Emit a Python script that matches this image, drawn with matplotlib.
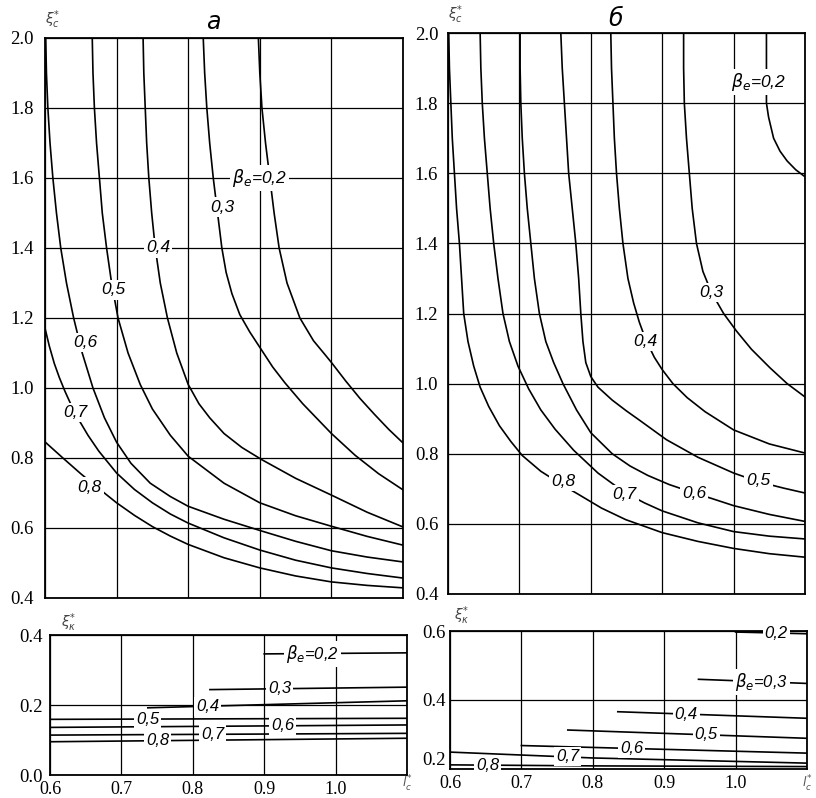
import numpy as np
import matplotlib.pyplot as plt

# ---------------- panel "а", upper part: xi_c* vs l_c* for several beta_e
a02_x = [0.898, 0.900, 0.903, 0.908, 0.914, 0.920, 0.927, 0.938, 0.956, 0.975, 0.99, 1.0, 1.02, 1.04, 1.06, 1.08, 1.1]
a02_y = [2.0, 1.9, 1.8, 1.7, 1.6, 1.5, 1.4, 1.3, 1.2, 1.135, 1.098, 1.073, 1.02, 0.97, 0.925, 0.882, 0.843]
a03_x = [0.821, 0.823, 0.826, 0.830, 0.835, 0.841, 0.847, 0.853, 0.861, 0.872, 0.886, 0.902,
         0.918, 0.935, 0.96, 1.0, 1.033, 1.066, 1.1]
a03_y = [2.0, 1.9, 1.8, 1.7, 1.6, 1.5, 1.4, 1.33, 1.27, 1.21, 1.16, 1.11,
         1.06, 1.015, 0.955, 0.87, 0.808, 0.755, 0.709]
a04_x = [0.737, 0.738, 0.740, 0.742, 0.745, 0.749, 0.754, 0.761, 0.771, 0.784, 0.80, 0.815,
         0.83, 0.85, 0.875, 0.903, 0.95, 1.0, 1.05, 1.1]
a04_y = [2.0, 1.9, 1.8, 1.7, 1.6, 1.5, 1.4, 1.3, 1.2, 1.1, 1.01, 0.955,
         0.915, 0.87, 0.83, 0.795, 0.742, 0.694, 0.645, 0.603]
a05_x = [0.666, 0.667, 0.669, 0.672, 0.676, 0.680, 0.686, 0.693, 0.702, 0.716, 0.733, 0.75,
         0.775, 0.8, 0.85, 0.9, 0.95, 1.0, 1.05, 1.1]
a05_y = [2.0, 1.9, 1.8, 1.7, 1.6, 1.5, 1.4, 1.3, 1.2, 1.1, 1.01, 0.94,
         0.865, 0.805, 0.728, 0.672, 0.635, 0.605, 0.576, 0.551]
a06_x = [0.601, 0.602, 0.604, 0.607, 0.611, 0.616, 0.622, 0.63, 0.64, 0.652, 0.667, 0.683,
         0.7, 0.72, 0.747, 0.775, 0.8, 0.85, 0.9, 0.95, 1.0, 1.05, 1.1]
a06_y = [2.0, 1.9, 1.8, 1.7, 1.6, 1.5, 1.4, 1.3, 1.2, 1.1, 1.0, 0.915,
         0.845, 0.785, 0.728, 0.69, 0.662, 0.625, 0.593, 0.562, 0.535, 0.517, 0.503]
a07_x = [0.6, 0.606, 0.613, 0.62, 0.628, 0.638, 0.649, 0.66, 0.675, 0.7, 0.725, 0.75,
         0.775, 0.8, 0.85, 0.9, 0.95, 1.0, 1.05, 1.1]
a07_y = [1.171, 1.12, 1.07, 1.03, 0.99, 0.945, 0.903, 0.865, 0.82, 0.757, 0.71, 0.672,
         0.64, 0.614, 0.572, 0.537, 0.508, 0.486, 0.47, 0.457]
a08_x = [0.6, 0.625, 0.65, 0.675, 0.7, 0.725, 0.75, 0.775, 0.8, 0.85, 0.9, 0.95, 1.0, 1.05, 1.1]
a08_y = [0.846, 0.80, 0.755, 0.713, 0.672, 0.636, 0.604, 0.577, 0.553, 0.515, 0.486, 0.463,
         0.446, 0.436, 0.429]

a_lab = [r'$\beta_e$=0,2', '0,3', '0,4', '0,5', '0,6', '0,7', '0,8']
a_lab_x = [0.9, 0.847, 0.758, 0.695, 0.656, 0.642, 0.662]
a_lab_y = [1.6, 1.517, 1.40, 1.28, 1.131, 0.931, 0.717]

# ---------------- panel "б", upper part
b02_x = [1.046, 1.046, 1.049, 1.056, 1.065, 1.075, 1.087, 1.1]
b02_y = [2.0, 1.8, 1.76, 1.70, 1.663, 1.635, 1.61, 1.59]
b03_x = [0.930, 0.930, 0.931, 0.934, 0.938, 0.942, 0.948, 0.957, 0.969, 0.986, 1.004, 1.025,
         1.051, 1.075, 1.1]
b03_y = [2.0, 1.9, 1.8, 1.7, 1.6, 1.5, 1.4, 1.32, 1.26, 1.2, 1.15, 1.098,
         1.045, 1.0, 0.962]
b04_x = [0.828, 0.829, 0.831, 0.833, 0.836, 0.840, 0.845, 0.852, 0.86, 0.868, 0.877, 0.889,
         0.9, 0.915, 0.935, 0.96, 1.0, 1.05, 1.1]
b04_y = [2.0, 1.9, 1.8, 1.7, 1.6, 1.5, 1.4, 1.3, 1.23, 1.175, 1.125, 1.075,
         1.04, 1.0, 0.96, 0.92, 0.868, 0.828, 0.802]
b05_x = [0.758, 0.760, 0.763, 0.766, 0.769, 0.774, 0.779, 0.783, 0.786, 0.789, 0.793, 0.80,
         0.81, 0.83, 0.85, 0.868, 0.906, 0.95, 1.0, 1.035, 1.07, 1.1]
b05_y = [2.0, 1.9, 1.8, 1.7, 1.6, 1.5, 1.4, 1.3, 1.2, 1.12, 1.06, 1.02,
         0.99, 0.953, 0.922, 0.896, 0.84, 0.79, 0.745, 0.72, 0.702, 0.688]
b06_x = [0.701, 0.701, 0.702, 0.704, 0.707, 0.711, 0.716, 0.721, 0.728, 0.737, 0.748, 0.761,
         0.78, 0.8, 0.83, 0.855, 0.88, 0.91, 0.945, 0.97, 1.0, 1.05, 1.1]
b06_y = [2.0, 1.9, 1.8, 1.7, 1.6, 1.5, 1.4, 1.3, 1.2, 1.12, 1.06, 1.0,
         0.925, 0.86, 0.80, 0.765, 0.738, 0.712, 0.688, 0.672, 0.652, 0.627, 0.607]
b07_x = [0.645, 0.646, 0.648, 0.651, 0.655, 0.659, 0.664, 0.670, 0.677, 0.686, 0.698, 0.713,
         0.73, 0.75, 0.776, 0.81, 0.847, 0.875, 0.9, 0.95, 1.0, 1.05, 1.1]
b07_y = [2.0, 1.9, 1.8, 1.7, 1.6, 1.5, 1.4, 1.3, 1.2, 1.12, 1.05, 0.985,
         0.925, 0.87, 0.81, 0.745, 0.69, 0.66, 0.637, 0.603, 0.578, 0.565, 0.557]
b08_x = [0.601, 0.602, 0.604, 0.606, 0.609, 0.612, 0.616, 0.619, 0.622, 0.628, 0.636, 0.645,
         0.657, 0.672, 0.688, 0.704, 0.73, 0.761, 0.782, 0.815, 0.849, 0.9, 0.95, 1.0, 1.05, 1.1]
b08_y = [2.0, 1.9, 1.8, 1.7, 1.6, 1.5, 1.4, 1.3, 1.2, 1.12, 1.05, 0.99,
         0.935, 0.88, 0.835, 0.795, 0.75, 0.71, 0.685, 0.645, 0.612, 0.575, 0.55, 0.53, 0.515, 0.505]

b_lab = [r'$\beta_e$=0,2', '0,3', '0,4', '0,5', '0,6', '0,7', '0,8']
b_lab_x = [1.035, 0.969, 0.877, 1.035, 0.945, 0.847, 0.761]
b_lab_y = [1.86, 1.261, 1.119, 0.725, 0.688, 0.683, 0.72]

# ---------------- panel "а", lower part: xi_k*
c02_x, c02_y = [0.9, 1.1], [0.346, 0.349]
c03_x, c03_y = [0.824, 1.1], [0.244, 0.251]
c04_x, c04_y = [0.737, 1.1], [0.192, 0.212]
c05_x, c05_y = [0.6, 1.1], [0.159, 0.162]
c06_x, c06_y = [0.6, 1.1], [0.136, 0.143]
c07_x, c07_y = [0.6, 1.1], [0.114, 0.119]
c08_x, c08_y = [0.6, 1.1], [0.095, 0.105]

c_lab = [r'$\beta_e$=0,2', '0,3', '0,4', '0,5', '0,6', '0,7', '0,8']
c_lab_x = [0.968, 0.922, 0.821, 0.737, 0.926, 0.828, 0.751]

# ---------------- panel "б", lower part
d02_x, d02_y = [1.0, 1.1], [0.597, 0.592]
d03_x, d03_y = [0.948, 1.1], [0.46, 0.448]
d04_x, d04_y = [0.835, 1.1], [0.366, 0.347]
d05_x, d05_y = [0.765, 1.1], [0.313, 0.289]
d06_x, d06_y = [0.7, 1.1], [0.268, 0.246]
d07_x, d07_y = [0.6, 0.8, 1.1], [0.249, 0.232, 0.217]
d08_x, d08_y = [0.6, 0.8, 1.1], [0.212, 0.209, 0.207]

d_lab = ['0,2', r'$\beta_e$=0,3', '0,4', '0,5', '0,6', '0,7', '0,8']
d_lab_x = [1.057, 1.036, 0.931, 0.959, 0.854, 0.765, 0.653]

x_ticks = [0.6, 0.7, 0.8, 0.9, 1.0, 1.1]
x_ticklabels = ['0.6', '0.7', '0.8', '0.9', '1.0', '']

plt.rcParams['font.family'] = ['Liberation Serif', 'DejaVu Serif']

fig = plt.figure(figsize=(8.16, 7.98), dpi=100)
W, H = 816, 798


def add_axes(left, right, top, bottom):
    return fig.add_axes([left / W, 1 - bottom / H, (right - left) / W, (bottom - top) / H])


def style(ax, ylo, yhi, ypad, show_x):
    ax.set_xlim(0.6, 1.1)
    ax.set_ylim(ylo, yhi)
    ax.set_xticks(x_ticks)
    yt = np.round(np.arange(ylo, yhi + 0.01, 0.2), 1)
    ax.set_yticks(yt)
    ax.set_yticklabels(['%.1f' % v for v in yt])
    if show_x:
        ax.set_xticklabels(x_ticklabels)
        # axis name l_c* sits where the 1.1 tick label would be
        ax.annotate(r'$l^{*}_{c}$', xy=(1.1, 0.005), xycoords=('data', 'figure fraction'),
                    ha='center', va='bottom', fontsize=9, color='#555555')
    else:
        ax.set_xticklabels([])
    ax.tick_params(length=0, labelsize=13.5)
    ax.tick_params(axis='y', pad=ypad)
    ax.tick_params(axis='x', pad=4, labelsize=13)
    ax.grid(True, color='black', lw=0.9)
    ax.set_axisbelow(True)
    for s in ax.spines.values():
        s.set_linewidth(1.3)


def label(ax, txt, x, y, size=12.5):
    ax.text(x, y, txt, ha='center', va='center', fontsize=size,
            family=['Liberation Sans', 'DejaVu Sans'], style='italic', zorder=5,
            bbox=dict(facecolor='white', edgecolor='none', pad=1.5))


line_kw = dict(color='black', lw=1.2, zorder=3)

# top-left
ax1 = add_axes(45, 403, 38, 598)
style(ax1, 0.4, 2.0, 8, False)
for xs, ys in [(a02_x, a02_y), (a03_x, a03_y), (a04_x, a04_y), (a05_x, a05_y),
               (a06_x, a06_y), (a07_x, a07_y), (a08_x, a08_y)]:
    ax1.plot(xs, ys, **line_kw)
for t, x, y in zip(a_lab, a_lab_x, a_lab_y):
    label(ax1, t, x, y)
ax1.text(0.47, 1.008, 'а', transform=ax1.transAxes, ha='center', va='bottom',
         fontsize=17, style='italic', family=['DejaVu Sans'])
ax1.text(0.0, 1.012, r'$\xi^{*}_{c}$', transform=ax1.transAxes, ha='left',
         va='bottom', fontsize=10, color='#444444')

# top-right
ax2 = add_axes(448, 805, 33, 594)
style(ax2, 0.4, 2.0, 7, False)
for xs, ys in [(b02_x, b02_y), (b03_x, b03_y), (b04_x, b04_y), (b05_x, b05_y),
               (b06_x, b06_y), (b07_x, b07_y), (b08_x, b08_y)]:
    ax2.plot(xs, ys, **line_kw)
for t, x, y in zip(b_lab, b_lab_x, b_lab_y):
    label(ax2, t, x, y)
ax2.text(0.47, 1.004, 'б', transform=ax2.transAxes, ha='center', va='bottom',
         fontsize=17, style='italic', family=['DejaVu Sans'])
ax2.text(0.0, 1.012, r'$\xi^{*}_{c}$', transform=ax2.transAxes, ha='left',
         va='bottom', fontsize=10, color='#444444')

# bottom-left
ax3 = add_axes(50, 407, 635, 775)
style(ax3, 0.0, 0.4, 5, True)
c_lines = [(c02_x, c02_y), (c03_x, c03_y), (c04_x, c04_y), (c05_x, c05_y),
           (c06_x, c06_y), (c07_x, c07_y), (c08_x, c08_y)]
for (xs, ys), t, lx in zip(c_lines, c_lab, c_lab_x):
    ax3.plot(xs, ys, **line_kw)
    label(ax3, t, lx, np.interp(lx, xs, ys), size=12)
ax3.text(0.03, 1.01, r'$\xi^{*}_{\kappa}$', transform=ax3.transAxes, ha='left',
         va='bottom', fontsize=10, color='#444444')

# bottom-right
ax4 = add_axes(450, 807, 631, 769)
style(ax4, 0.2, 0.6, 3, True)
ax4.get_yticklabels()[0].set_verticalalignment('bottom')
d_lines = [(d02_x, d02_y), (d03_x, d03_y), (d04_x, d04_y), (d05_x, d05_y),
           (d06_x, d06_y), (d07_x, d07_y), (d08_x, d08_y)]
for (xs, ys), t, lx in zip(d_lines, d_lab, d_lab_x):
    ax4.plot(xs, ys, **line_kw)
    label(ax4, t, lx, np.interp(lx, xs, ys), size=12)
ax4.text(0.01, 1.03, r'$\xi^{*}_{\kappa}$', transform=ax4.transAxes, ha='left',
         va='bottom', fontsize=10, color='#444444')

fig.savefig('out.png', dpi=100)
